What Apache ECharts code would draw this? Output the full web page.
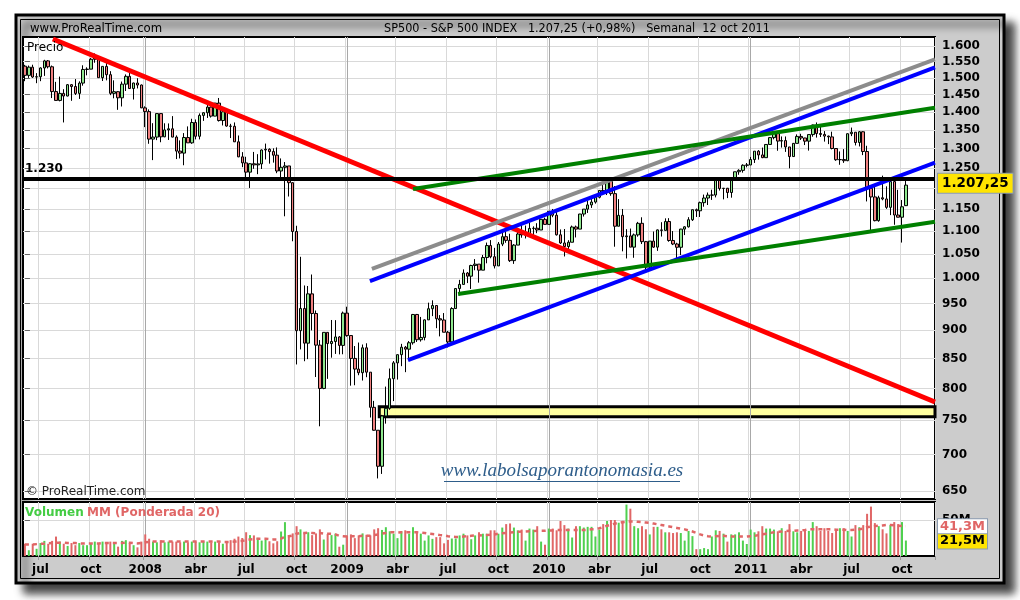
<!DOCTYPE html>
<html><head><meta charset="utf-8">
<script src="https://cdn.jsdelivr.net/npm/echarts@6/dist/echarts.min.js"></script>
<style>html,body{margin:0;padding:0;background:#fff}#c{width:1020px;height:600px}</style>
</head><body><div id="c"></div>
<script>
// ---------- DATA ----------
const firstWeekFriday = [2007, 5, 8];   // week ending 8 jun 2007
const weekSlots = 235;                   // weeks on the time axis (data + empty right margin)
const quarterLabels = {3: 'abr', 6: 'jul', 9: 'oct'};
const priceTicks = [650,700,750,800,850,900,950,1000,1050,1100,1150,1200,1250,1300,1350,1400,1450,1500,1550,1600];
const volumeTicks = [50];
const priceAxisRange = [639.6, 1629.4];
const volumeAxisMax = 75;

const opens = [1536,1507.7,1532.9,1502.6,1503.4,1530.4,1552.5,1534.1,1459,1433.1,
1453.6,1445.9,1479.4,1474,1453.6,1484.3,1525.8,1526.8,1557.6,1561.8,
1500.6,1535.3,1509.7,1453.7,1458.7,1440.7,1481.1,1504.7,1468,1484.5,
1478.5,1411.6,1401,1325.2,1330.6,1395.4,1331.3,1350,1353.1,1330.6,
1293.4,1288.1,1329.5,1315.2,1370.4,1332.8,1390.3,1397.8,1413.9,1388.3,
1425.4,1375.9,1400.4,1360.7,1360,1317.9,1278.4,1262.9,1239.5,1260.7,
1257.8,1260.3,1296.3,1298.2,1292.2,1282.8,1242.3,1251.7,1255.1,1213.3,
1099.2,899.2,940.6,876.8,968.8,931,873.3,800,896.2,876.1,
879.7,887.9,872.8,931.8,890.4,850.1,832,825.9,868.6,826.8,
770,735.1,683.4,756.6,768.5,815.9,842.5,856.6,869.6,866.2,
877.5,929.2,882.9,887,919.1,940.1,946.2,921.2,918.9,896.4,
879.1,940.4,979.3,987.5,1010.5,1004.1,1026.1,1028.9,1016.4,1042.7,
1068.3,1044.4,1025.2,1071.5,1087.7,1079.6,1036.2,1069.3,1093.5,1091.4,
1091.5,1106,1106.4,1102.5,1126.5,1115.1,1145,1136,1091.8,1073.9,
1066.2,1075.5,1109.2,1104.5,1138.7,1150,1159.9,1166.6,1178.1,1194.4,
1192.1,1217.3,1186.7,1110.9,1135.7,1087.7,1089.4,1064.9,1091.6,1117.5,
1076.8,1022.6,1078,1064.9,1102.7,1101.6,1121.6,1079.3,1071.7,1064.6,
1104.5,1109.6,1125.6,1148.7,1146.2,1165.2,1176.2,1183.1,1183.3,1225.9,
1199.2,1199.7,1189.4,1224.7,1240.4,1243.9,1256.8,1257.6,1271.5,1293.2,
1283.4,1276.3,1310.9,1329.2,1343,1319.9,1321.2,1304.3,1279.2,1313.8,
1332.4,1328.2,1319.7,1337.4,1363.6,1340.2,1337.8,1333.3,1331.1,1300.2,
1271,1271.5,1268.5,1339.7,1343.8,1316.1,1345,1292.3,1199.4,1178.8,
1123.5,1176.8,1174,1154.2,1216,1136.4,1131.4,1158.2];

const highs = [1540,1538,1540.5,1514.5,1532.4,1555.9,1555.2,1538,1488,1503.9,
1466,1481.5,1481.5,1496.4,1489.6,1538.7,1532.4,1561.9,1576.1,1563.5,
1535.3,1552.8,1520.5,1492.5,1460.2,1488.9,1510.6,1523.6,1485.4,1498.9,
1480,1416,1407.3,1368.6,1396,1396,1368.3,1367.9,1388.3,1335.2,
1321.7,1341.4,1359.7,1380.9,1378.9,1395.9,1399.2,1421.9,1415.6,1425.5,
1440.2,1406.3,1406.3,1366.8,1370.6,1334.9,1290.7,1278.6,1262.3,1291.2,
1285.4,1297.9,1313.2,1300.7,1300.7,1303,1274.4,1265.1,1255.1,1214,
1112,1044.3,985.4,984.4,1007.5,936.7,882.3,896.2,896.2,918.9,
918.6,889.5,934.7,943.9,890.4,871.7,877.9,874.4,876.6,826.8,
780.1,735.1,758.3,803,832.9,845.6,857,875.6,871.8,880.5,
930.2,930.2,924.6,920,951.7,956.2,946.2,928,931.9,898.7,
943,979.8,996.7,1018,1012.6,1027.6,1039.5,1028.9,1048.2,1074.8,
1080.2,1063.4,1076,1096.6,1101.4,1094.2,1071.5,1099.2,1113.7,1112.4,
1119.1,1110.7,1117.7,1126.5,1130.4,1145.4,1150.4,1150.5,1103.7,1104.7,
1080,1112.4,1112.4,1139,1150,1169.2,1180.7,1181.4,1194.7,1213.9,
1217.3,1219.8,1205.1,1173.6,1150.4,1104.3,1105.7,1094.6,1120.7,1131.2,
1078.3,1078,1099.1,1103.7,1120,1128.8,1129.2,1100.1,1074.3,1105.1,
1110.9,1131.5,1148.9,1151.4,1167.7,1184.4,1189.4,1196.1,1227.1,1226.8,
1200.3,1200.4,1225.6,1240.4,1246.7,1259.3,1262.6,1278.2,1293.2,1296.1,
1302.7,1311,1330.8,1344.1,1344.1,1332.3,1332.3,1304.3,1314.8,1337.9,
1339.5,1328.6,1337.5,1364.6,1370.6,1359.4,1346.8,1334.5,1345.2,1300.2,
1292.5,1298.6,1340.7,1356.5,1343.8,1347,1346.6,1307.4,1199.4,1208.5,
1181.6,1230.7,1204.4,1220.4,1220.6,1195.9,1171.4,1220.3];

const lows = [1490,1500,1500,1484,1490,1506,1529,1440,1432.8,1430.4,
1370.6,1445,1432,1449,1437.5,1476.5,1507.8,1527,1546.7,1500.5,
1490.6,1492.5,1448.5,1439.2,1406.1,1415.6,1460.7,1467.5,1435.7,1468.2,
1411,1357.7,1312.7,1270,1322.4,1316.8,1330.3,1322.9,1330.2,1272.7,
1274.3,1256.9,1315.2,1312.6,1324.4,1324.4,1375,1383.1,1384.2,1388,
1373.1,1362.3,1358.8,1328,1317.5,1277.6,1252,1225.4,1200.4,1247.8,
1234.4,1247.4,1271.7,1261,1263.6,1236.8,1224.5,1133.5,1179.8,1077.6,
839.8,865.8,845.3,848.9,899.7,818.7,741,798.8,815.7,851.4,
857.9,857.1,857.3,888.3,804.5,805.2,821.7,812.9,818.4,754.3,
734.5,666.8,672.9,745,766.2,779.8,814.5,836.9,826.8,847.1,
874.2,878.9,879.6,881.8,919.1,926.1,903.8,888.9,896.4,869.3,
875.3,940.4,965.9,987.5,990.2,978.5,1016.2,991,1016.4,1030.6,
1041.2,1019.9,1025.2,1067.1,1074.3,1033.4,1029.4,1069.3,1085.4,1083.7,
1091.5,1085.9,1095.4,1102.5,1114.8,1115.1,1131.4,1090.2,1071.6,1045,
1056.5,1075.5,1086,1104.5,1132.9,1141.2,1152.9,1162.9,1175.3,1186.1,
1183.3,1181.6,1065.8,1110.9,1055.9,1040.8,1064.9,1042.2,1087.7,1071.6,
1010.9,1018.4,1063.3,1056.9,1088,1101.6,1076.6,1069.3,1039.7,1047.9,
1091.2,1108,1122.8,1131.9,1131.9,1155.7,1159.7,1171.7,1177.7,1194.1,
1173,1176,1177,1221.1,1232.9,1238.2,1251.5,1257.6,1262.7,1271.3,
1275.1,1276.3,1310.9,1324.6,1294.3,1302.6,1291.3,1249.1,1279.2,1313.8,
1322.9,1309.3,1294.7,1331.6,1329.2,1330.9,1318.5,1311.8,1297.9,1268.2,
1258.1,1262.9,1267.3,1333.2,1308.3,1305.6,1282.9,1168.1,1101.5,1122,
1121.1,1170.8,1150.7,1136.2,1114.2,1131.1,1074.8,1157.3];

const closes = [1507.7,1532.9,1502.6,1503.4,1530.4,1552.5,1534.1,1459,1433.1,1453.6,
1445.9,1479.4,1474,1453.6,1484.3,1525.8,1526.8,1557.6,1561.8,1500.6,
1535.3,1509.7,1453.7,1458.7,1440.7,1481.1,1504.7,1468,1484.5,1478.5,
1411.6,1401,1325.2,1330.6,1395.4,1331.3,1350,1353.1,1330.6,1293.4,
1288.1,1329.5,1315.2,1370.4,1332.8,1390.3,1397.8,1413.9,1388.3,1425.4,
1375.9,1400.4,1360.7,1360,1317.9,1278.4,1262.9,1239.5,1260.7,1257.8,
1260.3,1296.3,1298.2,1292.2,1282.8,1242.3,1251.7,1255.1,1213.3,1099.2,
899.2,940.6,876.8,968.8,931,873.3,800,896.2,876.1,879.7,
887.9,872.8,931.8,890.4,850.1,832,825.9,868.6,826.8,770,
735.1,683.4,756.6,768.5,815.9,842.5,856.6,869.6,866.2,877.5,
929.2,882.9,887,919.1,940.1,946.2,921.2,918.9,896.4,879.1,
940.4,979.3,987.5,1010.5,1004.1,1026.1,1028.9,1016.4,1042.7,1068.3,
1044.4,1025.2,1071.5,1087.7,1079.6,1036.2,1069.3,1093.5,1091.4,1091.5,
1106,1106.4,1102.5,1126.5,1115.1,1145,1136,1091.8,1073.9,1066.2,
1075.5,1109.2,1104.5,1138.7,1150,1159.9,1166.6,1178.1,1194.4,1192.1,
1217.3,1186.7,1110.9,1135.7,1087.7,1089.4,1064.9,1091.6,1117.5,1076.8,
1022.6,1078,1064.9,1102.7,1101.6,1121.6,1079.3,1071.7,1064.6,1104.5,
1109.6,1125.6,1148.7,1146.2,1165.2,1176.2,1183.1,1183.3,1225.9,1199.2,
1199.7,1189.4,1224.7,1240.4,1243.9,1256.8,1257.6,1271.5,1293.2,1283.4,
1276.3,1310.9,1329.2,1343,1319.9,1321.2,1304.3,1279.2,1313.8,1332.4,
1328.2,1319.7,1337.4,1363.6,1340.2,1337.8,1333.3,1331.1,1300.2,1271,
1271.5,1268.5,1339.7,1343.8,1316.1,1345,1292.3,1199.4,1178.8,1123.5,
1176.8,1174,1154.2,1216,1136.4,1131.4,1155.5,1207.25];

// weekly volume, millions
const volumes = [17,8,17,10,18,21,17,21,27,20,
17,14,18,15,18,15,15,18,20,17,
20,18,20,18,13,21,22,18,15,12,
20,30,24,20,19,22,19,20,20,20,
19,20,19,20,20,19,20,20,19,20,
19,17,19,22,24,27,25,33,29,28.6,
25.2,21.4,22.4,20.5,17.6,20.5,34,47,27,31.4,
41.4,37,31.4,33,29,31.4,37,22.9,30.5,29,
31,12.9,15.7,28.6,30,24.8,28.6,31.4,29.5,28.6,
37,38.6,36.2,40,34.3,31,24.8,34.3,35.7,31,
40,32,31,21.4,28.6,23.8,26.2,26.2,17.6,22.4,
24.3,24.3,28.6,31,28.6,23.3,28.6,33,31,31,
35.7,35.7,31,39.5,44.3,45.2,39.5,35.7,36.7,21.4,
38.1,36.7,41.4,20,15.7,38.1,38.1,35.7,48.6,42.9,
38.1,25.7,41.4,41.4,39.5,40.5,40.5,27.1,36.7,44.3,
48.6,50,50,46.2,49,71.4,65.7,41.4,38.6,41.4,
37.1,30,40.5,40.5,37.1,32.9,32.9,31.9,32.9,31.9,
21.4,34.8,27.6,9.5,9.5,11,9.5,27.1,35.7,34.8,
31,20,30,30,32.9,21.4,16.7,36.7,32.9,34.3,
41.4,38.1,38.1,36.7,34.3,38.6,34.8,44.3,34.3,32.9,
34.8,34.8,34.8,47.1,41.4,34.8,38.6,34.8,31.9,35.7,
38.6,38.6,34.8,27.1,42.9,40,42.9,58.6,68.6,45.7,
41.4,37.1,31.4,42.9,47.1,44.3,47.1,21.5];

// "MM (Ponderada 20)" of the volume, millions
const volumeMA = [16,16,16,16.5,17,17,17.5,18,18.5,18.5,
18.5,18,18,18,17.5,17.5,17.5,17.5,17.5,17.5,
18,18,18,18,18,18,18.5,18.5,18,17.5,
18,19,19.5,20,20,20,20,20,20,20,
20,20,20,20,20,20,20,20,20,20,
20,19.5,19.5,19.5,20,20.5,21,22,23,23.5,
24,24,24,23.5,23,23,24,27,27.5,28.5,
31,32,32,32.5,32,31.5,32,31,31,31,
30,28,27.5,27,27.5,27.5,27.5,28,28,28,
29,30,31,32,33,33,32.5,33,33,33,
33,33,32.5,32,31,30.5,30,29,28.5,27.5,
27,26.5,26.5,27,27.5,28,28.5,28.5,29,29,
29.5,30,31,31.5,32,32.5,33,33.5,34,34,
34.5,34.5,35,35,35,35.5,35.5,36,36,36,
36,36,36,36,36,36.5,37,37.5,38.5,40,
42,43.5,45,46,47,47.5,48,48,47.5,47,
46.5,46,45,44,43,42,41,40,39,38,
37,35.5,34,32,30,28.5,27.5,27,27.5,28,
28,27.5,27,27,27,27,27,27.5,28,29,
30,31,32,33,33.5,34,34.5,35,35,35.5,
35.5,36,37,37,37,37,37,37,37,36.5,
36.5,36.5,36,36,36.5,37,38,40,41,41.5,
42,42.5,43,43,42.5,42,41.5,41.3];

// drawn lines: [weekIndex, price]
const redLine    = [[7.2, 1623], [234.5, 778.4]];
const grayLine   = [[89.4, 1019], [234.5, 1557.5]];
const blueUpper  = [[88.9, 994.3], [234.5, 1532.5]];
const blueLower  = [[98.7, 847.3], [234.5, 1263.4]];
const greenUpper = [[100, 1198], [234.5, 1412]];
const greenLower = [[111.6, 968.5], [234.5, 1121]];
const supportBand = {from: 91.3, to: 234.5, low: 755.5, high: 770.9};
const resistanceLevel = 1230;
const lastPrice = 1207.25, lastVolume = 21.5, lastVolumeMA = 41.3;

// ---------- BUILD ----------
const DAY = 864e5;
const t0 = Date.UTC(firstWeekFriday[0], firstWeekFriday[1], firstWeekFriday[2]);
const cats = [];
for (let i = 0; i < weekSlots; i++) cats.push(new Date(t0 + i * 7 * DAY).toISOString().slice(0, 10));
const monday = i => new Date(t0 + i * 7 * DAY - 4 * DAY);
const isQuarter = i => { if (i === 0) return false; const m = monday(i).getUTCMonth(); return m !== monday(i - 1).getUTCMonth() && m % 3 === 0; };
const tickText = i => { const d = monday(i), m = d.getUTCMonth(); return m === 0 ? String(d.getUTCFullYear()) : quarterLabels[m]; };
const yearIdx = []; for (let i = 0; i < weekSlots; i++) if (isQuarter(i) && monday(i).getUTCMonth() === 0) yearIdx.push(i);

const L = Math.log;
const upFill = '#8fe88f', downFill = '#f08080', volUp = '#4fd04f', volDown = '#e06666';
const candleData = closes.map((c, i) => [L(opens[i]), L(c), L(lows[i]), L(highs[i])]);
const volData = volumes.map((v, i) => ({value: v, itemStyle: {color: closes[i] >= opens[i] ? volUp : volDown}}));
const fmtPrice = v => { const n = Math.round(Math.exp(v)); return n >= 1000 ? Math.floor(n / 1000) + '.' + String(n % 1000).padStart(3, '0') : String(n); };
const lblFont = {fontFamily: 'DejaVu Sans', fontWeight: 'bold', fontSize: 12, color: '#000'};
const gridLineColor = '#d9d9d9';
const hiddenLine = {color: 'rgba(0,0,0,0)', width: 0};

function trend(pts, color, width, extra) {
  return Object.assign({type: 'line', xAxisIndex: 2, yAxisIndex: 0, data: pts.map(p => [p[0], L(p[1])]),
    symbol: 'none', silent: true, z: 3, lineStyle: {color, width, cap: 'butt'}}, extra || {});
}

const option = {
  animation: false,
  backgroundColor: '#fff',
  graphic: [
    {type: 'rect', z: -20, shape: {x: 16, y: 15, width: 988, height: 568},
      style: {fill: '#cccccc', stroke: '#000', lineWidth: 3, shadowBlur: 8, shadowOffsetX: 9, shadowOffsetY: 9, shadowColor: 'rgba(0,0,0,0.75)'}},
    {type: 'rect', z: -19, shape: {x: 20.5, y: 19.5, width: 979, height: 559}, style: {fill: 'none', stroke: '#000', lineWidth: 1}},
    {type: 'text', z: 100, x: 30, y: 29, style: {text: 'www.ProRealTime.com', fontFamily: '"Liberation Sans Narrow","DejaVu Sans Condensed",sans-serif', fontSize: 13, fill: '#000', verticalAlign: 'middle'}},
    {type: 'text', z: 100, x: 577, y: 29, style: {text: 'SP500 - S&P 500 INDEX   1.207,25 (+0,98%)   Semanal  12 oct 2011', fontFamily: '"Liberation Sans Narrow","DejaVu Sans Condensed",sans-serif', fontSize: 12.5, fill: '#000', align: 'center', verticalAlign: 'middle'}},
    {type: 'text', z: 100, x: 27, y: 48, style: {text: 'Precio', fontFamily: 'DejaVu Sans', fontSize: 12, fill: '#000', verticalAlign: 'middle'}},
    {type: 'text', z: 100, x: 26, y: 492, style: {text: '© ProRealTime.com', fontFamily: 'DejaVu Sans', fontSize: 12, fill: '#222', verticalAlign: 'middle'}},
    {type: 'text', z: 100, x: 562, y: 471, style: {text: 'www.labolsaporantonomasia.es', fontFamily: '"Liberation Serif",serif', fontStyle: 'italic', fontSize: 19, fill: '#2e5d8a', align: 'center', verticalAlign: 'middle'}},
    {type: 'line', z: 100, shape: {x1: 444, y1: 481.5, x2: 680, y2: 481.5}, style: {stroke: '#2e5d8a', lineWidth: 1}},
    {type: 'text', z: 100, x: 25, y: 513, style: {text: '{g|Volumen} {r|MM (Ponderada 20)}', verticalAlign: 'middle',
      rich: {g: {fill: '#44cc44', fontWeight: 'bold', fontSize: 12, fontFamily: 'DejaVu Sans'}, r: {fill: '#e06666', fontWeight: 'bold', fontSize: 12, fontFamily: 'DejaVu Sans'}}}}
  ],
  grid: [
    {left: 23, right: 85, top: 37, height: 462, show: true, backgroundColor: '#fff', borderColor: '#000', borderWidth: 2},
    {left: 23, right: 85, top: 502, height: 54, show: true, backgroundColor: '#fff', borderColor: '#000', borderWidth: 2}
  ],
  xAxis: [
    {type: 'category', gridIndex: 0, data: cats, boundaryGap: true,
      axisLine: {show: false}, axisTick: {show: false}, axisLabel: {show: false},
      splitLine: {show: true, interval: i => isQuarter(i), lineStyle: {color: gridLineColor, width: 1}}},
    {type: 'category', gridIndex: 1, data: cats, boundaryGap: true,
      axisLine: {show: false},
      axisTick: {show: true, interval: i => isQuarter(i), length: 4, lineStyle: {color: '#999'}},
      axisLabel: Object.assign({interval: i => isQuarter(i), formatter: (v, i) => tickText(i), margin: 8, fontSize: 12}, lblFont),
      splitLine: {show: true, interval: i => isQuarter(i), lineStyle: {color: gridLineColor, width: 1}}},
    {type: 'value', gridIndex: 0, min: -0.5, max: weekSlots - 0.5, show: false},
    {type: 'value', gridIndex: 1, min: -0.5, max: weekSlots - 0.5, show: false}
  ],
  yAxis: [
    {type: 'value', gridIndex: 0, position: 'right', min: L(priceAxisRange[0]), max: L(priceAxisRange[1]), scale: true,
      axisLine: {show: false},
      axisTick: {show: true, length: 5, customValues: priceTicks.map(L), lineStyle: {color: '#666'}},
      axisLabel: Object.assign({customValues: priceTicks.map(L), formatter: fmtPrice, margin: 7}, lblFont),
      splitLine: {show: true, lineStyle: {color: gridLineColor, width: 1}}},
    {type: 'value', gridIndex: 1, position: 'right', min: 0, max: volumeAxisMax,
      axisLine: {show: false},
      axisTick: {show: true, length: 5, customValues: volumeTicks, lineStyle: {color: '#666'}},
      axisLabel: Object.assign({customValues: volumeTicks, formatter: v => v + 'M', margin: 7}, lblFont),
      splitLine: {show: true, lineStyle: {color: gridLineColor, width: 1}}}
  ],
  series: [
    {type: 'candlestick', xAxisIndex: 0, yAxisIndex: 0, data: candleData, barWidth: 3, z: 2,
      itemStyle: {color: upFill, color0: downFill, borderColor: '#000', borderColor0: '#000', borderWidth: 1},
      markLine: {silent: true, symbol: ['none', 'none'], z: 6, animation: false,
        data: [
          {yAxis: L(resistanceLevel), lineStyle: {color: '#000', width: 4, type: 'solid'},
            label: {show: true, position: 'insideStartTop', formatter: '1.230', distance: [2, 3], fontFamily: 'DejaVu Sans', fontWeight: 'bold', fontSize: 12, color: '#000'}},
          {yAxis: L(lastPrice), lineStyle: hiddenLine,
            label: {show: true, position: 'end', distance: 3, formatter: '1.207,25', backgroundColor: '#ffe400', borderColor: '#8a9bb0', borderWidth: 1, padding: [3, 4, 2, 4],
              fontFamily: 'DejaVu Sans', fontWeight: 'bold', fontSize: 13.5, color: '#000'}}
        ]}},
    trend(redLine, '#ff0000', 5, {markArea: {silent: true, z: 1, itemStyle: {color: 'rgba(255,255,150,0.9)', borderColor: '#000', borderWidth: 3},
      data: [[{coord: [supportBand.from, L(supportBand.high)]}, {coord: [supportBand.to, L(supportBand.low)]}]]}}),
    trend(grayLine, '#8c8c8c', 4),
    trend(blueUpper, '#0000ff', 4),
    trend(blueLower, '#0000ff', 4),
    trend(greenUpper, '#008000', 4),
    trend(greenLower, '#008000', 4, {markLine: {silent: true, symbol: ['none', 'none'], z: 1, label: {show: false},
      data: yearIdx.map(i => ({xAxis: i})), lineStyle: {color: '#a8a8a8', width: 1, type: 'solid'}}}),
    {type: 'bar', xAxisIndex: 1, yAxisIndex: 1, data: volData, barWidth: 2, z: 2,
      markLine: {silent: true, symbol: ['none', 'none'], z: 6,
        data: [{yAxis: lastVolume, lineStyle: hiddenLine,
          label: {show: true, position: 'end', distance: 3, formatter: '21,5M', backgroundColor: '#ffe400', borderColor: '#8a9bb0', borderWidth: 1, padding: [2, 2, 1, 2],
            fontFamily: 'DejaVu Sans', fontWeight: 'bold', fontSize: 13, color: '#000'}}]}},
    {type: 'line', xAxisIndex: 1, yAxisIndex: 1, data: volumeMA, symbol: 'none', z: 3, silent: true,
      lineStyle: {color: '#e06666', width: 2.5, type: [4, 4]},
      markLine: {silent: true, symbol: ['none', 'none'], z: 7,
        data: [{yAxis: lastVolumeMA, lineStyle: hiddenLine,
          label: {show: true, position: 'end', distance: 3, formatter: '41,3M', backgroundColor: '#fff', borderColor: '#8a9bb0', borderWidth: 1, padding: [1, 2, 0, 2],
            fontFamily: 'DejaVu Sans', fontWeight: 'bold', fontSize: 13, color: '#e06666'}}]}},
    {type: 'line', xAxisIndex: 3, yAxisIndex: 1, data: [], symbol: 'none', silent: true,
      markLine: {silent: true, symbol: ['none', 'none'], z: 1, label: {show: false},
        data: yearIdx.map(i => ({xAxis: i})), lineStyle: {color: '#a8a8a8', width: 1, type: 'solid'}}}
  ]
};
const chart = echarts.init(document.getElementById('c'), null, {renderer: 'canvas'});
chart.setOption(option);
</script></body></html>
